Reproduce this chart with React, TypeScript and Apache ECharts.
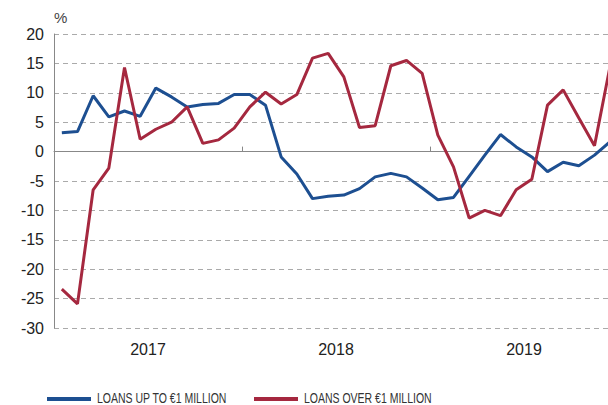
import React, { useEffect, useRef } from "react";
import * as echarts from "echarts";

const years = ["2017", "2018", "2019"];
const months = [
  "2017-01","2017-02","2017-03","2017-04","2017-05","2017-06","2017-07","2017-08","2017-09","2017-10","2017-11","2017-12",
  "2018-01","2018-02","2018-03","2018-04","2018-05","2018-06","2018-07","2018-08","2018-09","2018-10","2018-11","2018-12",
  "2019-01","2019-02","2019-03","2019-04","2019-05","2019-06","2019-07","2019-08","2019-09","2019-10","2019-11","2019-12",
];
const loansUpTo1M = [
  3.2, 3.4, 9.5, 5.9, 6.9, 6.0, 10.8, 9.3, 7.6, 8.0, 8.2, 9.7,
  9.7, 7.9, -0.9, -3.8, -8.0, -7.6, -7.4, -6.3, -4.3, -3.7, -4.3, -6.2,
  -8.2, -7.8, -4.2, -0.6, 2.9, 0.8, -0.9, -3.4, -1.8, -2.4, -0.6, 1.7,
];
const loansOver1M = [
  -23.4, -25.9, -6.5, -2.8, 14.3, 2.1, 3.8, 5.0, 7.6, 1.4, 2.0, 4.0,
  7.6, 10.1, 8.1, 9.7, 15.9, 16.7, 12.7, 4.1, 4.4, 14.6, 15.5, 13.3,
  2.8, -2.6, -11.3, -10.0, -10.9, -6.5, -4.7, 7.9, 10.5, 5.7, 1.0, 14.6,
];
const seriesNames = ["LOANS UP TO €1 MILLION", "LOANS OVER €1 MILLION"];
const colors = ["#1d4f91", "#a5283f"];

export default function App() {
  const ref = useRef<HTMLDivElement>(null);
  useEffect(() => {
    if (!ref.current) return;
    const chart = echarts.init(ref.current, null, { renderer: "svg" });
    const font = "'Liberation Sans', Arial, Helvetica, sans-serif";
    const legendItem = (x: number, name: string, color: string) => ({
      type: "group",
      x,
      y: 398,
      children: [
        { type: "rect", shape: { x: 0, y: -1, width: 44, height: 4 }, style: { fill: color } },
        {
          type: "text",
          x: 50,
          y: 0,
          scaleX: 0.75,
          style: {
            text: name,
            fontSize: 14,
            fill: "#333",
            fontFamily: font,
            verticalAlign: "middle",
            align: "left",
          },
        },
      ],
    });
    chart.setOption({
      animation: false,
      textStyle: { fontFamily: font },
      graphic: [
        {
          type: "text",
          left: 54,
          top: 10,
          style: { text: "%", fontSize: 15, fill: "#444", fontFamily: font },
        },
        legendItem(47, seriesNames[0], colors[0]),
        legendItem(254, seriesNames[1], colors[1]),
      ],
      grid: { left: 54, top: 34, width: 564, height: 294, outerBoundsMode: "none", containLabel: false },
      xAxis: [
        {
          type: "category",
          data: months,
          boundaryGap: true,
          axisLine: { show: true, lineStyle: { color: "#888", width: 1 } },
          axisTick: {
            show: true,
            inside: true,
            length: 5,
            interval: (index: number) => index % 12 === 0,
            lineStyle: { color: "#888" },
          },
          axisLabel: { show: false },
          splitLine: { show: false },
        },
        {
          type: "category",
          data: years,
          position: "bottom",
          boundaryGap: true,
          axisLine: { show: false },
          axisTick: { show: false },
          axisLabel: { fontSize: 16, color: "#222", margin: 13, fontFamily: font },
          splitLine: { show: false },
        },
      ],
      yAxis: {
        type: "value",
        min: -30,
        max: 20,
        interval: 5,
        axisLine: { show: true, lineStyle: { color: "#888", width: 1 } },
        axisTick: { show: false },
        axisLabel: { fontSize: 16, color: "#222", margin: 10, fontFamily: font },
        splitLine: { show: true, lineStyle: { color: "#aaa", type: [5, 4], width: 1 } },
      },
      series: [
        {
          name: seriesNames[0],
          type: "line",
          data: loansUpTo1M,
          xAxisIndex: 0,
          symbol: "none",
          lineStyle: { color: colors[0], width: 3 },
          itemStyle: { color: colors[0] },
          z: 3,
          markLine: {
            silent: true,
            symbol: "none",
            label: { show: false },
            lineStyle: { color: "#888", type: "solid", width: 1 },
            data: [{ yAxis: 0 }],
            z: 1,
          },
        },
        {
          name: seriesNames[1],
          type: "line",
          data: loansOver1M,
          xAxisIndex: 0,
          symbol: "none",
          lineStyle: { color: colors[1], width: 3 },
          itemStyle: { color: colors[1] },
          z: 4,
        },
      ],
    });
    return () => chart.dispose();
  }, []);
  return (
    <div
      ref={ref}
      style={{ position: "fixed", left: 0, top: 0, width: 608, height: 405, background: "#fff" }}
    />
  );
}
